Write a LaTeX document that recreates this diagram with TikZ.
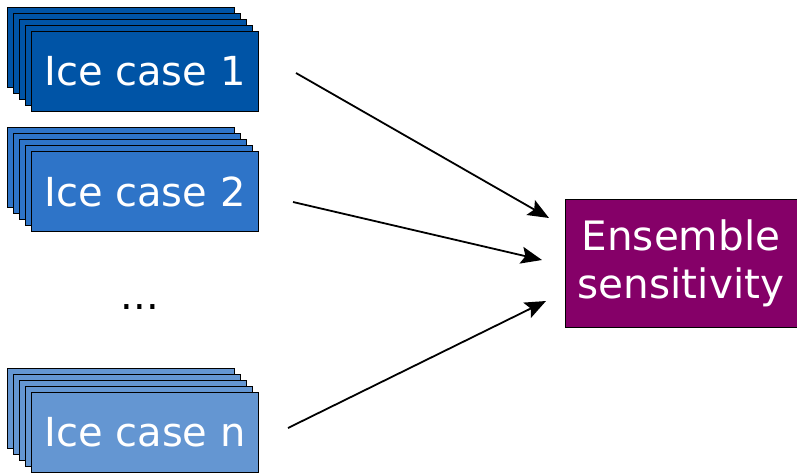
\documentclass[tikz,border=0pt]{standalone}
\usepackage{fontspec}
\setmainfont{DejaVu Sans}
\usetikzlibrary{arrows.meta}
\definecolor{caseone}{RGB}{0,84,166}
\definecolor{casetwo}{RGB}{46,116,200}
\definecolor{casen}{RGB}{100,150,210}
\definecolor{ensemble}{RGB}{133,0,104}
\tikzset{
  card/.style={draw=black, line width=1pt, fill=#1},
  cardfront/.style={card=#1, anchor=north west, minimum width=227pt, minimum height=80pt,
    inner sep=0pt, text=white, font=\fontsize{40}{48}\selectfont},
  sensbox/.style={draw=black, line width=1pt, fill=ensemble, minimum width=232pt,
    minimum height=128pt, inner sep=0pt, text=white, align=center,
    font=\fontsize{40.5}{48}\selectfont},
  flow/.style={line width=1.8pt, -{Stealth[length=21pt,width=17pt,inset=4pt]}}
}
\begin{document}
\begin{tikzpicture}[x=1pt,y=-1pt]
\useasboundingbox (0,0) rectangle (797,472);
% stacked cards: four back sheets and a labelled front sheet
\foreach \top/\col in {7/caseone,127/casetwo,368/casen}{
  \foreach \k in {0,1,2,3}{
    \path[card=\col] (7+6*\k,\top+6*\k) rectangle ++(227,80);
  }
}
\node[cardfront=caseone] (c1) at (31,31) {Ice case 1};
\node[cardfront=casetwo] (c2) at (31,151) {Ice case 2};
\node[cardfront=casen] (cn) at (31,392) {Ice case n};
\node[font=\fontsize{40}{48}\selectfont, anchor=base] (dots) at (140,309) {...};
\node[sensbox] (ens) at (681,263) {Ensemble\\sensitivity};
% arrows
\coordinate (s1) at (296,73);  \coordinate (e1) at (549,218);
\coordinate (s2) at (293,202); \coordinate (e2) at (542,260);
\coordinate (s3) at (288,428); \coordinate (e3) at (546,301);
\draw[flow] (s1) -- (e1);
\draw[flow] (s2) -- (e2);
\draw[flow] (s3) -- (e3);
\end{tikzpicture}
\end{document}
